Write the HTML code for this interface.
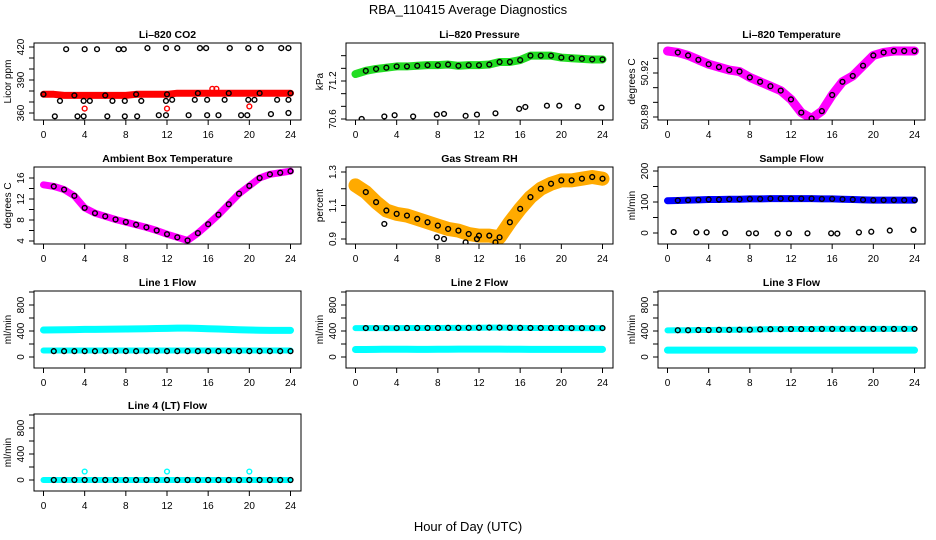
<!DOCTYPE html>
<html><head><meta charset="utf-8"><style>
body{margin:0;background:#fff;}
svg{display:block;font-family:"Liberation Sans",sans-serif;}
</style></head><body>
<svg id="chart" width="936" height="540" viewBox="0 0 936 540">
<rect width="936" height="540" fill="#fff"/>
<text x="468" y="14" font-size="13" text-anchor="middle">RBA_110415  Average Diagnostics</text>
<text x="468" y="531" font-size="13" text-anchor="middle">Hour of Day (UTC)</text>
</svg>
<script>
const hours = [0,1,2,3,4,5,6,7,8,9,10,11,12,13,14,15,16,17,18,19,20,21,22,23,24];
const co2Band = [377,377,376,376,376,376,376,376,376,377,377,377,377,378,378,378,378,378,378,378,378,378,378,378,378];
const co2HiX = [2.2,4,5.2,7.3,7.8,10.1,11.9,13,15.2,15.8,18.1,19.9,21.1,23.1,23.8];
const co2HiY = [418,418,418,418,418,419,419,419,419,419,419,419,419,419,419];
const co2MidX = [1.6,3.9,4.5,6.7,7.9,9.5,11.9,12.5,14.7,15.9,17.6,19.9,20.5,22.7,23.8];
const co2MidY = [371,371,371,371,371,371,371,372,372,372,372,372,372,372,372];
const co2LoX = [1.1,3.3,3.9,6.2,7.9,9.1,11.2,11.9,14.1,15.9,17,19.2,19.8,22.1,23.8];
const co2LoY = [357,357,357,357,357,357,358,358,358,358,358,358,358,359,360];
const co2RedX = [4,12,20,16.4,16.8];
const co2RedY = [364,364,366,382,382];
const presBand = [71.31,71.36,71.39,71.41,71.43,71.43,71.44,71.45,71.45,71.46,71.44,71.45,71.45,71.46,71.5,71.5,71.53,71.6,71.6,71.6,71.57,71.56,71.55,71.54,71.54];
const presLoX = [0.6,2.8,3.8,5.6,7.9,8.6,10.7,11.8,13.6,15.9,16.5,18.6,19.8,21.6,23.9];
const presLoY = [70.6,70.64,70.66,70.64,70.67,70.68,70.65,70.67,70.69,70.76,70.79,70.81,70.81,70.8,70.78];
const tempBand = [50.935,50.934,50.932,50.929,50.926,50.924,50.922,50.921,50.917,50.914,50.911,50.908,50.902,50.893,50.889,50.894,50.905,50.914,50.918,50.925,50.932,50.934,50.935,50.935,50.935];
const ambBand = [14.7,14.4,13.8,12.6,10.3,9.3,8.7,8.1,7.6,7.1,6.6,6.0,5.3,4.7,4.1,5.5,7.2,9.0,11.0,13.0,14.5,16.0,16.7,17.0,17.3];
const rhBand = [1.22,1.18,1.12,1.07,1.05,1.04,1.02,1.0,0.98,0.96,0.95,0.93,0.92,0.92,0.91,1.0,1.08,1.15,1.2,1.23,1.25,1.25,1.26,1.27,1.26];
const rhLoX = [2.8,7.9,8.6,10.7,11.8,13.6];
const rhLoY = [0.99,0.91,0.9,0.88,0.9,0.88];
const sfBand = [104,105,106,107,108,108,109,109,110,110,111,111,111,111,111,110,110,109,108,107,106,106,106,106,106];
const sfLoX = [0.6,2.8,3.8,5.6,7.9,8.6,10.7,11.8,13.6,15.9,16.5,18.6,19.8,21.6,23.9];
const sfLoY = [3,2,2,0,-1,-1,-2,-1,-1,-1,-2,2,4,8,10];
const l1Hi = [415,418,420,422,425,425,427,428,430,432,435,438,440,445,445,440,435,430,425,420,415,412,410,410,410];
const l1Lo = [100,100,100,100,100,100,100,100,100,100,100,100,100,100,100,100,100,100,100,100,100,100,100,100,100];
const l1Blk = [90,90,90,90,90,90,90,90,90,90,90,90,90,90,90,90,90,90,90,90,90,90,90,90,90];
const l2Hi = [445,445,445,445,445,446,446,447,447,448,448,449,450,452,452,450,448,447,447,446,446,445,445,445,445];
const l2Lo = [115,115,118,120,120,120,118,118,120,120,122,122,122,122,122,120,120,118,118,118,118,118,118,118,118];
const l3Hi = [410,412,412,415,415,418,418,420,420,425,428,428,430,430,430,432,432,432,432,432,432,432,432,432,432];
const l3Lo = [105,105,105,105,105,105,105,105,105,105,105,105,105,105,105,105,105,105,105,105,105,105,105,105,105];
const l4Base = [0,0,0,0,0,0,0,0,0,0,0,0,0,0,0,0,0,0,0,0,0,0,0,0,0];
const l4OutX = [4,12,20];
const l4OutY = [130,130,130];
const xTicks = [0,4,8,12,16,20,24];

const NS='http://www.w3.org/2000/svg';
const svg=document.getElementById('chart');
function el(tag,attrs,parent){const e=document.createElementNS(NS,tag);for(const k in attrs)e.setAttribute(k,attrs[k]);(parent||svg).appendChild(e);return e;}

function panel(p){
  const L=[34,346,658][p.col], T=[43,167,291,414][p.row], W=267, H=77;
  const g=el('g',{});
  
  
  const xs=v=>L+9.5+v*(247/24);
  const ys=v=>p.y1+(v-p.v1)*(p.y2-p.y1)/(p.v2-p.v1);
  const clip='clip'+p.name;
  const cp=el('clipPath',{id:clip},g);el('rect',{x:L,y:T,width:W,height:H},cp);
  const plot=el('g',{'clip-path':'url(#'+clip+')'},g);
  (p.bands||[]).forEach(b=>{
    const pl=el('polyline',{points:b.v.map((v,i)=>xs(hours[i])+','+ys(v)).join(' '),fill:'none',stroke:b.c,'stroke-width':b.w||7,'stroke-linejoin':'round','stroke-linecap':'round'},plot);
    
    
  });
  (p.pts||[]).forEach(s=>{
    s.x.forEach((x,i)=>{
      const c=el('circle',{cx:xs(x),cy:ys(s.y[i]),r:2.4,fill:'none',stroke:s.c,'stroke-width':1.4},plot);
      
      
    });
  });
  const box=el('rect',{x:L,y:T,width:W,height:H,fill:'none',stroke:'#000','stroke-width':1},g);
  
  
  const tt=el('text',{x:L+W/2,y:T-5,'font-size':10.5,'font-weight':'bold','text-anchor':'middle'},g);tt.textContent=p.title;
  
  
  xTicks.forEach(t=>{
    el('line',{x1:xs(t),x2:xs(t),y1:T+H,y2:T+H+5,stroke:'#000'},g);
    const tx=el('text',{x:xs(t),y:T+H+18,'font-size':10,'text-anchor':'middle'},g);tx.textContent=t;
    
    
  });
  (p.minor||[]).forEach(t=>{const y=ys(t);if(y>=T-1&&y<=T+H+1)el('line',{x1:L-5,x2:L,y1:y,y2:y,stroke:'#000'},g);});
  p.yt.forEach(t=>{
    const y=ys(t);
    el('line',{x1:L-5,x2:L,y1:y,y2:y,stroke:'#000'},g);
    const tx=el('text',{x:0,y:0,'font-size':10,'text-anchor':'middle',transform:'translate('+(L-10)+','+y+') rotate(-90)'},g);tx.textContent=p.ytl?p.ytl[p.yt.indexOf(t)]:t;
    
    
  });
  const yl=el('text',{x:0,y:0,'font-size':10,'text-anchor':'middle',transform:'translate('+(L-23)+','+(T+H/2)+') rotate(-90)'},g);yl.textContent=p.ylab;
  
  
}

panel({name:'co2-panel',col:0,row:0,title:'Li\u2013820 CO2',ylab:'Licor ppm',v1:360,y1:113,v2:420,y2:47,yt:[360,390,420],minor:[350,370,380,400,410,420],
  bands:[{v:co2Band,c:'#ff0000',w:7,n:'co2-band'}],
  pts:[{x:co2HiX,y:co2HiY,c:'#000',n:'co2-high-point'},{x:co2MidX,y:co2MidY,c:'#000',n:'co2-mid-point'},{x:co2LoX,y:co2LoY,c:'#000',n:'co2-low-point'},{x:co2RedX,y:co2RedY,c:'#ff0000',n:'co2-red-point'},{x:hours.slice(0,25).filter((h,i)=>i%3===0),y:co2Band.filter((v,i)=>i%3===0),c:'#000',n:'co2-band-point'}]});
panel({name:'pressure-panel',col:1,row:0,title:'Li\u2013820 Pressure',ylab:'kPa',v1:70.6,y1:119,v2:71.2,y2:81,yt:[70.6,71.2],ytl:['70.6','71.2'],minor:[70.8,71.0,71.4,71.6],
  bands:[{v:presBand,c:'#22dd22',w:8,n:'pressure-band'}],
  pts:[{x:hours.slice(1),y:presBand.slice(1),c:'#000',n:'pressure-point'},{x:presLoX,y:presLoY,c:'#000',n:'pressure-low-point'}]});
panel({name:'temperature-panel',col:2,row:0,title:'Li\u2013820 Temperature',ylab:'degrees C',v1:50.89,y1:117,v2:50.92,y2:73,yt:[50.89,50.92],ytl:['50.89','50.92'],minor:[50.90,50.91,50.93],
  bands:[{v:tempBand,c:'#ff00ff',w:9,n:'temperature-band'}],
  pts:[{x:hours.slice(1),y:tempBand.slice(1),c:'#000',n:'temperature-point'}]});
panel({name:'ambient-panel',col:0,row:1,title:'Ambient Box Temperature',ylab:'degrees C',v1:4,y1:241,v2:16,y2:178,yt:[4,8,12,16],minor:[6,10,14],
  bands:[{v:ambBand,c:'#ff00ff',w:7,n:'ambient-band'}],
  pts:[{x:hours.slice(1),y:ambBand.slice(1),c:'#000',n:'ambient-point'}]});
panel({name:'rh-panel',col:1,row:1,title:'Gas Stream RH',ylab:'percent',v1:0.9,y1:239,v2:1.3,y2:172,yt:[0.9,1.1,1.3],ytl:['0.9','1.1','1.3'],minor:[1.0,1.2],
  bands:[{v:rhBand,c:'#ffaa00',w:14,n:'rh-band'}],
  pts:[{x:hours.slice(1),y:rhBand.slice(1),c:'#000',n:'rh-point'},{x:rhLoX,y:rhLoY,c:'#000',n:'rh-low-point'}]});
panel({name:'sample-flow-panel',col:2,row:1,title:'Sample Flow',ylab:'ml/min',v1:0,y1:233,v2:200,y2:171,yt:[0,100,200],minor:[50,150],
  bands:[{v:sfBand,c:'#0000ff',w:7,n:'sample-flow-band'}],
  pts:[{x:hours.slice(1),y:sfBand.slice(1),c:'#000',n:'sample-flow-point'},{x:sfLoX,y:sfLoY,c:'#000',n:'sample-flow-low-point'}]});
panel({name:'line1-flow-panel',col:0,row:2,title:'Line 1 Flow',ylab:'ml/min',v1:0,y1:357,v2:800,y2:305,yt:[0,400,800],minor:[200,600,1000],
  bands:[{v:l1Hi,c:'#00ffff',w:7,n:'line1-high-band'},{v:l1Lo,c:'#00ffff',w:6,n:'line1-low-band'}],
  pts:[{x:hours.slice(1),y:l1Blk.slice(1),c:'#000',n:'line1-point'}]});
panel({name:'line2-flow-panel',col:1,row:2,title:'Line 2 Flow',ylab:'ml/min',v1:0,y1:357,v2:800,y2:305,yt:[0,400,800],minor:[200,600,1000],
  bands:[{v:l2Hi,c:'#00ffff',w:6,n:'line2-high-band'},{v:l2Lo,c:'#00ffff',w:7,n:'line2-low-band'}],
  pts:[{x:hours.slice(1),y:l2Hi.slice(1),c:'#000',n:'line2-point'}]});
panel({name:'line3-flow-panel',col:2,row:2,title:'Line 3 Flow',ylab:'ml/min',v1:0,y1:357,v2:800,y2:305,yt:[0,400,800],minor:[200,600,1000],
  bands:[{v:l3Hi,c:'#00ffff',w:6,n:'line3-high-band'},{v:l3Lo,c:'#00ffff',w:7,n:'line3-low-band'}],
  pts:[{x:hours.slice(1),y:l3Hi.slice(1),c:'#000',n:'line3-point'}]});
panel({name:'line4-flow-panel',col:0,row:3,title:'Line 4 (LT) Flow',ylab:'ml/min',v1:0,y1:480,v2:800,y2:428,yt:[0,400,800],minor:[200,600,1000],
  bands:[{v:l4Base,c:'#00ffff',w:6,n:'line4-band'}],
  pts:[{x:hours.slice(1),y:l4Base.slice(1),c:'#000',n:'line4-point'},{x:l4OutX,y:l4OutY,c:'#00ffff',n:'line4-outlier-point'}]});
</script>
</body></html>
